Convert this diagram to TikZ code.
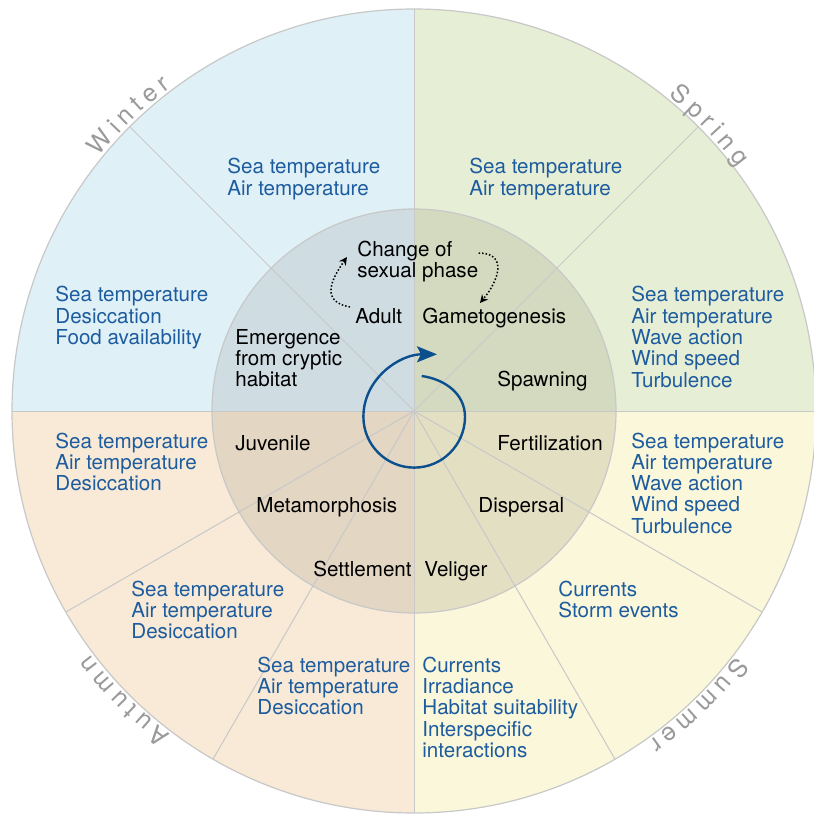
\documentclass[tikz,border=0pt]{standalone}
\usepackage{fontspec}
\setmainfont{TeX Gyre Heros}
\newfontfamily\seasonfont[WordSpace=0.8]{TeX Gyre Heros}
\usetikzlibrary{arrows.meta, decorations.text}

\definecolor{winterfill}{HTML}{DFF0F7}
\definecolor{springfill}{HTML}{E6EED5}
\definecolor{summerfill}{HTML}{FAF7DA}
\definecolor{autumnfill}{HTML}{F8EAD7}
\definecolor{winterinner}{HTML}{CFDCE2}
\definecolor{springinner}{HTML}{D4DABF}
\definecolor{summerinner}{HTML}{E2DFC3}
\definecolor{autumninner}{HTML}{E3D6C3}
\definecolor{ringgray}{HTML}{C8C8C8}
\definecolor{seasongray}{HTML}{9A9A9A}
\definecolor{factorblue}{HTML}{1D5C9E}
\definecolor{cycleblue}{HTML}{0B4F8E}

\newcommand{\stack}[1]{\begin{tabular}[t]{@{}l@{}}#1\end{tabular}}

\begin{document}
\begin{tikzpicture}[x=0.5pt, y=0.5pt,
		font=\fontsize{10.3}{10.5}\selectfont,
		factor/.style={anchor=base west, inner sep=0pt, text=factorblue},
		stage/.style={anchor=base west, inner sep=0pt, text=black},
		spoke/.style={draw=ringgray, line width=0.5pt},
		season/.style={decorate, decoration={text along path, text align=center, text color=seasongray, text={|\seasonfont\fontsize{12.5}{14}\selectfont|#1}}},
		phase arrow/.style={densely dotted, line width=0.75pt, -{Stealth[length=4pt, width=4pt]}},
		cycle arrow/.style={draw=cycleblue, line width=1.2pt, -{Stealth[length=10pt, width=8pt, inset=2pt, fill=cycleblue]}}]
		\useasboundingbox (-414,-403) rectangle (400,411);

		% quadrants, outer ring and inner disc
		\foreach \a/\outer/\inner in {90/winterfill/winterinner, 0/springfill/springinner, -90/summerfill/summerinner, 180/autumnfill/autumninner} {
			\fill[\outer] (0,0) -- (\a:402) arc[start angle=\a, end angle=\a+90, radius=402] -- cycle;
			\fill[\inner] (0,0) -- (\a:202) arc[start angle=\a, end angle=\a+90, radius=202] -- cycle;
		}
		\foreach \a in {0, 45, 90, 135, 180, 210, 240, 270, 300, 330}
			\draw[spoke] (0,0) -- (\a:402);
		\draw[ringgray, line width=0.6pt] (0,0) circle[radius=402];
		\draw[ringgray, line width=0.6pt] (0,0) circle[radius=202];

		% seasons
		\path[season={W i n t e r}] (160:405) arc[start angle=160, end angle=108, radius=405];
		\path[season={S p r i n g}] (70:405) arc[start angle=70, end angle=18, radius=405];
		\path[season={S u m m e r}] (340:405) arc[start angle=340, end angle=288, radius=405];
		\path[season={A u t u m n}] (251:405) arc[start angle=251, end angle=199, radius=405];

		% environmental cues
		\node[factor] (wintertop) at (-187,237) {\stack{Sea temperature\\Air temperature}};
		\node[factor] (winterleft) at (-359,109) {\stack{Sea temperature\\Desiccation\\Food availability}};
		\node[factor] (springtop) at (55,237) {\stack{Sea temperature\\Air temperature}};
		\node[factor] (springright) at (217,109) {\stack{Sea temperature\\Air temperature\\Wave action\\Wind speed\\Turbulence}};
		\node[factor] (summerright) at (217,-37) {\stack{Sea temperature\\Air temperature\\Wave action\\Wind speed\\Turbulence}};
		\node[factor] (summermid) at (144,-185) {\stack{Currents\\Storm events}};
		\node[factor] (summerlow) at (8,-261) {\stack{Currents\\Irradiance\\Habitat suitability\\Interspecific\\interactions}};
		\node[factor] (autumnlow) at (-157,-261) {\stack{Sea temperature\\Air temperature\\Desiccation}};
		\node[factor] (autumnmid) at (-283,-185) {\stack{Sea temperature\\Air temperature\\Desiccation}};
		\node[factor] (autumnleft) at (-359,-37) {\stack{Sea temperature\\Air temperature\\Desiccation}};

		% life cycle stages
		\node[stage] (change) at (-57,155) {\stack{Change of\\sexual phase}};
		\node[stage] (adult) at (-59,88) {Adult};
		\node[stage] (gametogenesis) at (8,88) {Gametogenesis};
		\node[stage] (emergence) at (-179,67) {\stack{Emergence\\from cryptic\\habitat}};
		\node[stage] (spawning) at (83,25) {Spawning};
		\node[stage] (juvenile) at (-179,-39) {Juvenile};
		\node[stage] (fertilization) at (83,-39) {Fertilization};
		\node[stage] (metamorphosis) at (-158,-101) {Metamorphosis};
		\node[stage] (dispersal) at (64,-101) {Dispersal};
		\node[stage] (settlement) at (-101,-165) {Settlement};
		\node[stage] (veliger) at (10,-165) {Veliger};

		\draw[phase arrow] ([shift={(-5,16)}]adult.base west) to[out=170, in=-125, looseness=1.5] ([shift={(-10,-1)}]change.base west);
		\draw[phase arrow] ([shift={(0,3)}]change.base east) to[out=0, in=50, looseness=1.5] ([shift={(58,20)}]gametogenesis.base west);

		% annual cycle
		\draw[cycle arrow] (7.7,35) to[out=-8, in=90] (51,-5.8) arc[start angle=0, end angle=-180, radius=50.8] to[out=90, in=180] (23,56.7);
	\end{tikzpicture}
\end{document}
